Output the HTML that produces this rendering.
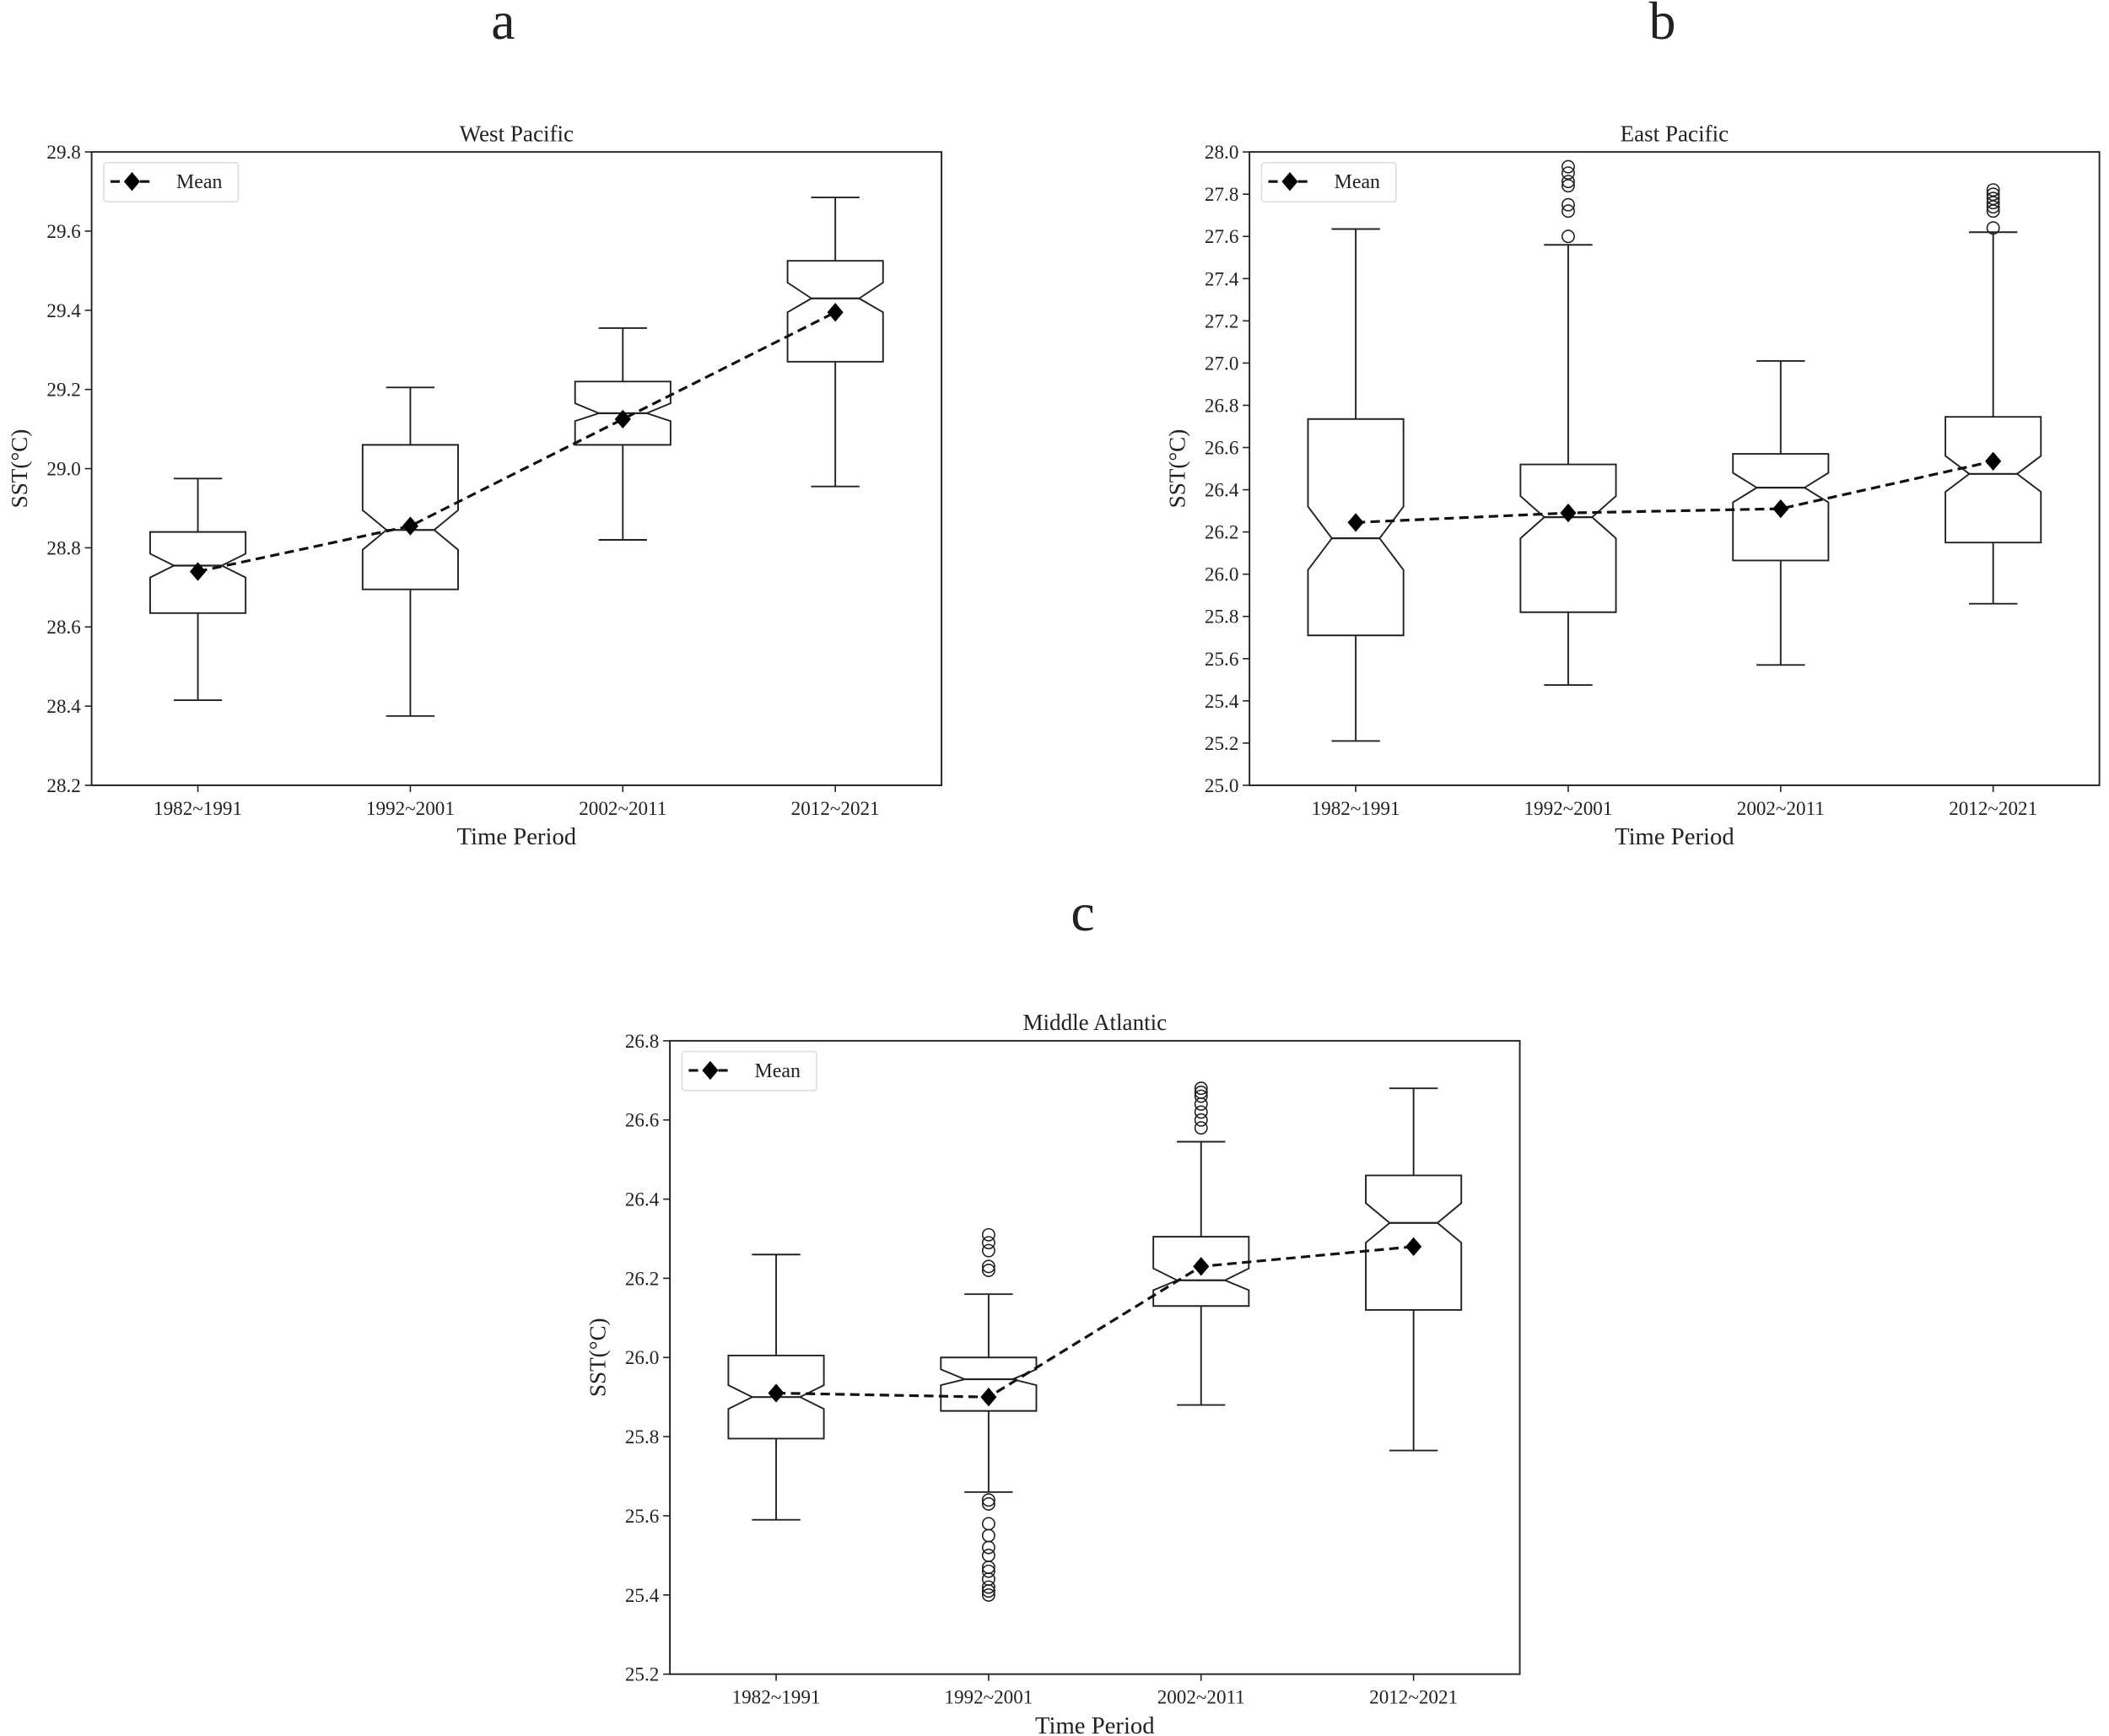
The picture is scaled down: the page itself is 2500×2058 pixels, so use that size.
<!DOCTYPE html>
<html><head><meta charset="utf-8"><style>
html,body{margin:0;padding:0;background:#fff;}
svg{display:block;}
text{font-family:"Liberation Serif",serif;fill:#222;}
</style></head><body>
<svg id="s" width="2500" height="2058" viewBox="0 0 1568 1291" xmlns="http://www.w3.org/2000/svg">
<rect width="1568" height="1291" fill="#fff"/>
<text x="374" y="29" font-size="40" text-anchor="middle">a</text>
<text x="1236" y="29" font-size="40" text-anchor="middle">b</text>
<text x="805" y="692" font-size="40" text-anchor="middle">c</text>
</svg>
<script>
var NS="http://www.w3.org/2000/svg",S=document.getElementById('s');
function el(t,a,txt){var e=document.createElementNS(NS,t);for(var k in a)e.setAttribute(k,a[k]);if(txt!==undefined)e.textContent=txt;S.appendChild(e);return e;}
var cats=["1982~1991","1992~2001","2002~2011","2012~2021"];
function panel(p){
 var L=p.x0,R=p.x0+632,T=p.y0,B=p.y0+471;
 function Y(v){return B-(v-p.ymin)/(p.ymax-p.ymin)*(B-T);}
 var xs=[L+79,L+237,L+395,L+553];
 el('text',{x:(L+R)/2,y:T-8,'font-size':17,'text-anchor':'middle'},p.title);
 p.ticks.forEach(function(t){var y=Y(parseFloat(t));
  el('line',{x1:L-5,x2:L,y1:y,y2:y,stroke:'#222','stroke-width':1});
  el('text',{x:L-8,y:y+5,'font-size':14.5,'text-anchor':'end'},t);});
 xs.forEach(function(x,i){el('line',{x1:x,x2:x,y1:B,y2:B+5,stroke:'#222','stroke-width':1});
  el('text',{x:x,y:B+22,'font-size':14.5,'text-anchor':'middle'},cats[i]);});
 el('text',{x:(L+R)/2,y:B+44,'font-size':18,'text-anchor':'middle'},'Time Period');
 el('text',{x:0,y:0,'font-size':17,'text-anchor':'middle',transform:'translate('+(L-48)+','+((T+B)/2)+') rotate(-90)'},'SST(°C)');
 p.b.forEach(function(d,i){var x=xs[i],w=35.5,h=17.75;
  // d: [wlo,q1,nlo,med,nhi,q3,whi,mean,outliers]
  el('line',{x1:x,x2:x,y1:Y(d[0]),y2:Y(d[1]),stroke:'#222','stroke-width':1.2});
  el('line',{x1:x,x2:x,y1:Y(d[5]),y2:Y(d[6]),stroke:'#222','stroke-width':1.2});
  el('line',{x1:x-18,x2:x+18,y1:Y(d[0]),y2:Y(d[0]),stroke:'#222','stroke-width':1.2});
  el('line',{x1:x-18,x2:x+18,y1:Y(d[6]),y2:Y(d[6]),stroke:'#222','stroke-width':1.2});
  var pts=[[x-w,Y(d[1])],[x+w,Y(d[1])],[x+w,Y(d[2])],[x+h,Y(d[3])],[x+w,Y(d[4])],[x+w,Y(d[5])],[x-w,Y(d[5])],[x-w,Y(d[4])],[x-h,Y(d[3])],[x-w,Y(d[2])]];
  el('polygon',{points:pts.map(function(q){return q.join(',')}).join(' '),fill:'none',stroke:'#222','stroke-width':1.2});
  el('line',{x1:x-h,x2:x+h,y1:Y(d[3]),y2:Y(d[3]),stroke:'#222','stroke-width':1.4});
  (d[8]||[]).forEach(function(o){el('circle',{cx:x,cy:Y(o),r:4.5,fill:'none',stroke:'#222','stroke-width':1});});
 });
 el('polyline',{points:p.b.map(function(d,i){return xs[i]+','+Y(d[7])}).join(' '),fill:'none',stroke:'#111','stroke-width':2,'stroke-dasharray':'7,4'});
 p.b.forEach(function(d,i){var x=xs[i],y=Y(d[7]);el('polygon',{points:(x)+','+(y-7)+' '+(x+6)+','+y+' '+x+','+(y+7)+' '+(x-6)+','+y,fill:'#000'});});
 // legend
 el('rect',{x:L+9,y:T+8,width:100,height:29,rx:2,fill:'#fff',stroke:'#ddd','stroke-width':1});
 el('line',{x1:L+14,x2:L+47,y1:T+22,y2:T+22,stroke:'#111','stroke-width':2,'stroke-dasharray':'7,4'});
 el('polygon',{points:(L+30)+','+(T+15)+' '+(L+36)+','+(T+22)+' '+(L+30)+','+(T+29)+' '+(L+24)+','+(T+22),fill:'#000'});
 el('text',{x:L+63,y:T+27,'font-size':15},'Mean');
 el('rect',{x:L,y:T,width:632,height:471,fill:'none',stroke:'#222','stroke-width':1.2});
}
panel({x0:68,y0:113,ymin:28.2,ymax:29.8,title:'West Pacific',
 ticks:["28.2","28.4","28.6","28.8","29.0","29.2","29.4","29.6","29.8"],
 b:[[28.415,28.635,28.725,28.755,28.785,28.84,28.975,28.74],
    [28.375,28.695,28.795,28.845,28.895,29.06,29.205,28.855],
    [28.82,29.06,29.12,29.14,29.165,29.22,29.355,29.125],
    [28.955,29.27,29.395,29.43,29.47,29.525,29.685,29.395]]});
panel({x0:929,y0:113,ymin:25.0,ymax:28.0,title:'East Pacific',
 ticks:["25.0","25.2","25.4","25.6","25.8","26.0","26.2","26.4","26.6","26.8","27.0","27.2","27.4","27.6","27.8","28.0"],
 b:[[25.21,25.71,26.02,26.17,26.32,26.735,27.635,26.245],
    [25.475,25.82,26.17,26.27,26.37,26.52,27.56,26.29,[27.6,27.72,27.75,27.84,27.86,27.9,27.93]],
    [25.57,26.065,26.34,26.41,26.48,26.57,27.01,26.31],
    [25.86,26.15,26.39,26.475,26.56,26.745,27.62,26.535,[27.64,27.72,27.74,27.76,27.78,27.8,27.82]]]});
panel({x0:498,y0:774,ymin:25.2,ymax:26.8,title:'Middle Atlantic',
 ticks:["25.2","25.4","25.6","25.8","26.0","26.2","26.4","26.6","26.8"],
 b:[[25.59,25.795,25.87,25.9,25.93,26.005,26.26,25.91],
    [25.66,25.865,25.93,25.945,25.97,26.0,26.16,25.9,[26.22,26.23,26.27,26.29,26.31,25.63,25.64,25.58,25.55,25.52,25.5,25.47,25.46,25.44,25.42,25.41,25.4]],
    [25.88,26.13,26.17,26.195,26.225,26.305,26.545,26.23,[26.58,26.6,26.62,26.64,26.66,26.67,26.68]],
    [25.765,26.12,26.29,26.34,26.39,26.46,26.68,26.28]]});
</script>
</body></html>
